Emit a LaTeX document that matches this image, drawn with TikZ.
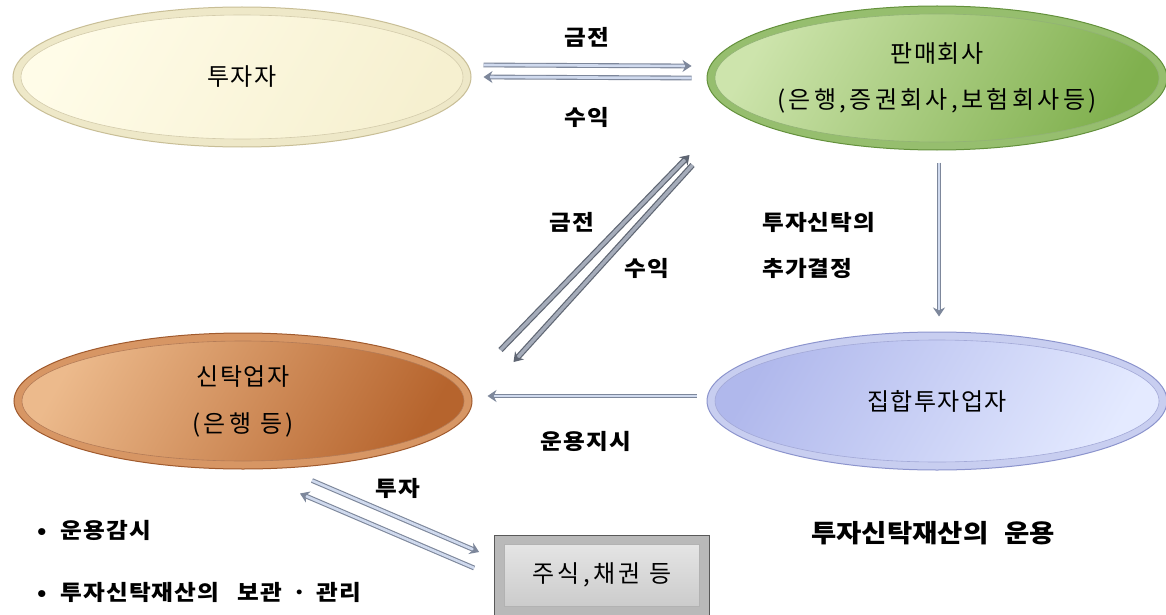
\documentclass[tikz,border=0pt]{standalone}
\usepackage{fontspec}
\setmainfont{Noto Sans CJK KR}
\newfontfamily\nodefont[LetterSpace=6]{Noto Sans CJK KR}
\newfontfamily\widefont[LetterSpace=14]{Noto Sans CJK KR}
\newfontfamily\lblfont[FakeStretch=1.1,LetterSpace=5]{Noto Sans CJK KR}
\newfontfamily\biglblfont[FakeStretch=1.1]{Noto Sans CJK KR}
\usetikzlibrary{shapes.geometric,arrows.meta}
\definecolor{invRing}{RGB}{238,232,200}
\definecolor{invBorder}{RGB}{200,190,150}
\definecolor{invA}{RGB}{255,252,232}
\definecolor{invB}{RGB}{246,240,208}
\definecolor{selRing}{RGB}{150,190,110}
\definecolor{selBorder}{RGB}{100,145,60}
\definecolor{selA}{RGB}{205,228,172}
\definecolor{selB}{RGB}{128,176,78}
\definecolor{truRing}{RGB}{215,150,100}
\definecolor{truBorder}{RGB}{160,90,45}
\definecolor{truA}{RGB}{236,186,140}
\definecolor{truB}{RGB}{182,100,45}
\definecolor{colRing}{RGB}{200,206,240}
\definecolor{colBorder}{RGB}{140,148,205}
\definecolor{colA}{RGB}{176,184,236}
\definecolor{colB}{RGB}{228,234,255}
\definecolor{arrGray}{RGB}{125,135,155}
\definecolor{arrFill}{RGB}{208,218,238}
\definecolor{arrDark}{RGB}{95,102,115}
\definecolor{arrMid}{RGB}{165,172,186}
\definecolor{boxRing}{RGB}{185,185,185}
\definecolor{boxA}{RGB}{232,232,232}
\definecolor{boxB}{RGB}{200,200,200}
\begin{document}
\begin{tikzpicture}[x=1pt,y=-1pt,
  oval/.style={ellipse, inner sep=0pt, line width=1pt, minimum width=458pt, minimum height=140pt, align=center,
    font=\nodefont\fontsize{24}{46}\selectfont},
  dbl/.style={draw=arrGray, line width=1.1pt, double=arrFill, double distance=2.6pt,
    -{Stealth[length=9pt,width=12pt]}},
  dbldark/.style={draw=arrDark, line width=1.2pt, double=arrMid, double distance=3.4pt,
    -{Stealth[length=9pt,width=12pt]}},
  lbl/.style={font=\lblfont\bfseries\fontsize{21.5}{26}\selectfont, inner sep=0pt},
  biglbl/.style={font=\biglblfont\bfseries\fontsize{25}{30}\selectfont, inner sep=0pt},
  stockbox/.style={rectangle, inner sep=0pt, minimum width=215pt, minimum height=80pt, draw=gray!70!black,
    line width=0.8pt, fill=boxRing, font=\widefont\fontsize{24}{28}\selectfont}
]
\useasboundingbox (0,0) rectangle (1166,615);
\fill[white] (0,0) rectangle (1166,615);

% ellipses
\node[oval, draw=invBorder, fill=invRing,
  path picture={\shade[left color=invA, right color=invB, shading angle=60, draw=invBorder!80, line width=0.6pt]
    (path picture bounding box.center) ellipse [x radius=221, y radius=62];}]
  (inv) at (242,77) {투자자};
\node[oval, draw=selBorder, fill=selRing, minimum width=460pt, minimum height=144pt,
  path picture={\shade[left color=selA, right color=selB, shading angle=60, draw=selBorder!70, line width=0.6pt]
    (path picture bounding box.center) ellipse [x radius=222, y radius=64];}]
  (sell) at (937,78) {판매회사\\{\widefont(은행,증권회사,보험회사등)}};
\node[oval, draw=truBorder, fill=truRing, minimum height=136pt,
  font=\nodefont\fontsize{24}{47}\selectfont,
  path picture={\shade[left color=truA, right color=truB, shading angle=60, draw=truBorder!80, line width=0.6pt]
    (path picture bounding box.center) ellipse [x radius=221, y radius=60];}]
  (trust) at (243,401) {신탁업자\\{\widefont(은행 등)}};
\node[oval, draw=colBorder, fill=colRing, minimum width=460pt, minimum height=138pt,
  path picture={\shade[left color=colA, right color=colB, shading angle=60, draw=colBorder!80, line width=0.6pt]
    (path picture bounding box.center) ellipse [x radius=222, y radius=61];}]
  (coll) at (937,401) {집합투자업자};

% stock box
\node[stockbox,
  path picture={\shade[top color=boxA, bottom color=boxB, draw=gray!60]
    ([shift={(10,9)}]path picture bounding box.north west) rectangle ([shift={(-10,-9)}]path picture bounding box.south east);}]
  (stk) at (602,575) {주식,채권 등};

% arrows
\draw[dbl] ([shift={(12,-12)}]inv.east) -- ([shift={(-15,-12)}]sell.west);
\draw[dbl] ([shift={(-15,0)}]sell.west) -- ([shift={(12,0)}]inv.east);
\draw[dbldark] ([shift={(28,-51)}]trust.east) -- ([shift={(-17,77)}]sell.west);
\draw[dbldark] ([shift={(-14,87)}]sell.west) -- ([shift={(41,-39)}]trust.east);
\draw[dbl] ([shift={(2,12)}]sell.south) -- ([shift={(2,-15)}]coll.north);
\draw[dbl] ([shift={(-10,-5)}]coll.west) -- ([shift={(15,-5)}]trust.east);
\draw[dbl] ([shift={(69,11)}]trust.south) -- ([shift={(-15,-23)}]stk.west);
\draw[dbl] ([shift={(-20,-7)}]stk.west) -- ([shift={(57,24)}]trust.south);

% labels
\node[lbl] (l1) at (587,37) {금전};
\node[lbl] (l2) at (587,117) {수익};
\node[lbl] (l3) at (572,222) {금전};
\node[lbl] (l4) at (647,268) {수익};
\node[lbl, anchor=west] (l5) at (762,222) {투자신탁의};
\node[lbl, anchor=west] (l6) at (762,268) {추가결정};
\node[lbl] (l7) at (586,441) {운용지시};
\node[lbl] (l8) at (398,488) {투자};
\node[lbl, anchor=west] (b1) at (37,530) {•\hspace{14pt}운용감시};
\node[lbl, anchor=west] (b2) at (37,592) {•\hspace{14pt}투자신탁재산의\hspace{18pt}보관\hspace{10pt}·\hspace{10pt}관리};
\node[biglbl, anchor=west] (l9) at (811,533) {투자신탁재산의\hspace{16pt}운용};
\end{tikzpicture}
\end{document}
